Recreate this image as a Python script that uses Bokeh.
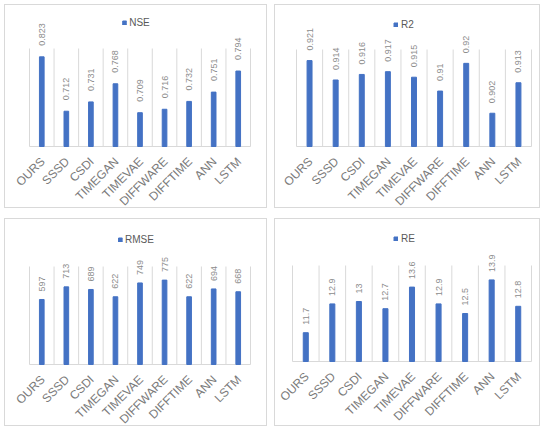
import math
from bokeh.plotting import figure
from bokeh.models import Range1d, ColumnDataSource
from bokeh.layouts import column, row
from bokeh.core.properties import value
from bokeh.embed import file_html
from bokeh.resources import INLINE

categories = ["OURS", "SSSD", "CSDI", "TIMEGAN", "TIMEVAE", "DIFFWARE", "DIFFTIME", "ANN", "LSTM"]
nse = [0.823, 0.712, 0.731, 0.768, 0.709, 0.716, 0.732, 0.751, 0.794]
r2 = [0.921, 0.914, 0.916, 0.917, 0.915, 0.91, 0.92, 0.902, 0.913]
rmse = [597, 713, 689, 622, 749, 775, 622, 694, 668]
re_vals = [11.7, 12.9, 13, 12.7, 13.6, 12.9, 12.5, 13.9, 12.8]

nse_axis = (0.64, 0.84)
r2_axis = (0.89, 0.925)
rmse_axis = (0, 900)
re_axis = (10.5, 14.5)

BAR = "#4472C4"
GRID = "#d9d9d9"
FONT = "Liberation Sans"


def make_panel(name, vals, axis, W, H, pl, pr, pt, pb, lab_off, leg_margin):
    # pl, pr, pt, pb: plot-area edges in pixels inside the panel
    ymin, ymax = axis
    n = len(categories)
    cw = (pr - pl) / n
    x0 = -pl / cw
    x1 = n + (W - pr) / cw
    s = (ymax - ymin) / (pb - pt)
    y0 = ymin - (H - pb) * s
    y1 = ymax + pt * s
    p = figure(width=W, height=H, x_range=Range1d(x0, x1), y_range=Range1d(y0, y1),
               output_backend="svg", toolbar_location=None,
               x_axis_location=None, y_axis_location=None,
               min_border=0)
    p.outline_line_color = None
    p.xgrid.visible = False
    p.ygrid.visible = False
    bounds = list(range(n + 1))
    p.segment(x0=bounds, y0=[ymin] * len(bounds), x1=bounds, y1=[ymax] * len(bounds),
              line_color=GRID, line_width=1)
    p.segment(x0=[0], y0=[ymin], x1=[n], y1=[ymin], line_color=GRID, line_width=1)
    xs = [i + 0.5 for i in range(n)]
    src = ColumnDataSource(dict(x=xs, top=vals, lbl=["{:g}".format(v) for v in vals],
                                cat=categories, base=[ymin] * n))
    p.vbar(x="x", top="top", bottom=ymin, width=0.19, source=src,
           fill_color=BAR, line_color=BAR, legend_label=name)
    p.text(x="x", y="top", text="lbl", source=src, angle=math.pi / 2,
           text_align="left", text_baseline="middle", y_offset=-lab_off,
           text_font=value(FONT), text_font_size="9px", text_color="#8c8c8c")
    p.text(x="x", y="base", text="cat", source=src, angle=math.pi / 4,
           text_align="right", text_baseline="middle", y_offset=13, x_offset=1,
           text_font=value(FONT), text_font_size="12px", text_color="#7a7a7a")
    lg = p.legend[0]
    lg.location = "top_center"
    lg.orientation = "horizontal"
    lg.border_line_color = None
    lg.background_fill_alpha = 0
    lg.margin = leg_margin
    lg.padding = 2
    lg.glyph_width = 5
    lg.glyph_height = 5
    lg.label_height = 10
    lg.label_standoff = 3
    lg.label_text_font = FONT
    lg.label_text_font_size = "10px"
    lg.label_text_color = "#595959"
    p.styles = {"outline": "1px solid #d9d9d9"}
    return p


p1 = make_panel("NSE", nse, nse_axis, 261, 202, 24, 245, 43, 141, 11, 12)
p2 = make_panel("R2", r2, r2_axis, 264, 202, 21, 256, 44, 141, 10, 14)
p3 = make_panel("RMSE", rmse, rmse_axis, 261, 206, 24, 245, 47, 145, 8, 15)
p4 = make_panel("RE", re_vals, re_axis, 264, 206, 17, 256, 46, 142, 8, 14)

layout = column(row(p1, p2, spacing=9), row(p3, p4, spacing=9), spacing=12,
                margin=(5, 0, 0, 5))
open("out.html", "w").write(file_html(layout, INLINE))
